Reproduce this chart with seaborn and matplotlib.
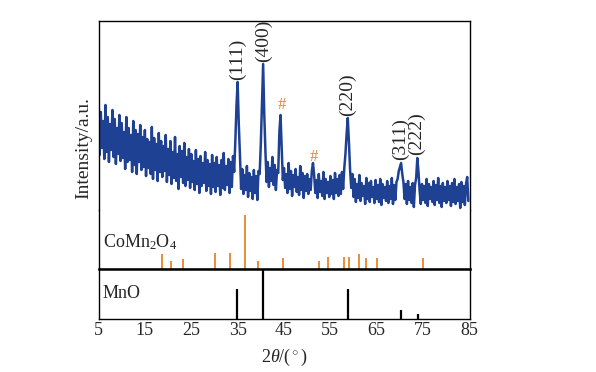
import matplotlib
matplotlib.use("Agg")
import matplotlib.pyplot as plt
import numpy as np
import pandas as pd
import seaborn as sns

# XRD pattern, 2theta from 5 to 84.75 in 0.25 deg steps (intensity, a.u.)
two_theta = np.arange(5.0, 85.0, 0.25)
intensity = [
    228, 165, 208, 172, 199, 161, 215, 168, 203, 158, 196, 170, 210, 163, 201, 156, 192, 166, 205, 159,
    197, 162, 188, 151, 203, 158, 192, 160, 185, 148, 199, 155, 190, 146, 186, 158, 195, 150, 183, 153,
    190, 144, 181, 152, 178, 146, 193, 141, 182, 150, 176, 139, 187, 148, 179, 143, 174, 149, 185, 138,
    171, 145, 179, 136, 168, 142, 183, 139, 166, 131, 174, 143, 169, 137, 177, 134, 163, 140, 171, 132,
    166, 138, 159, 130, 170, 136, 161, 127, 164, 134, 157, 137, 168, 129, 160, 134, 156, 126, 165, 133,
    157, 128, 163, 134, 155, 125, 160, 132, 167, 130, 154, 135, 161, 127, 158, 133, 164, 148, 178, 214,
    238, 196, 165, 131, 151, 126, 145, 130, 154, 123, 147, 129, 143, 121, 150, 127, 144, 120, 149, 146,
    176, 218, 256, 205, 168, 138, 158, 133, 152, 139, 163, 135, 155, 130, 150, 147, 188, 205, 172, 140,
    152, 132, 146, 127, 157, 131, 149, 124, 145, 133, 151, 128, 143, 125, 154, 130, 147, 122, 144, 129,
    146, 126, 141, 130, 149, 157, 145, 127, 140, 122, 146, 128, 139, 124, 148, 121, 141, 127, 138, 123,
    144, 126, 140, 121, 147, 127, 141, 124, 145, 126, 148, 131, 152, 166, 186, 202, 178, 150, 132, 146,
    123, 141, 118, 136, 122, 145, 119, 137, 124, 134, 116, 142, 121, 137, 118, 139, 123, 133, 117, 140,
    121, 135, 118, 141, 115, 136, 122, 133, 119, 139, 117, 134, 121, 142, 116, 135, 120, 138, 141, 149,
    153, 157, 146, 138, 121, 136, 116, 139, 120, 133, 117, 137, 113, 135, 142, 162, 148, 129, 116, 136,
    120, 134, 117, 141, 114, 136, 121, 133, 118, 139, 115, 135, 120, 142, 117, 134, 113, 137, 119, 133,
    117, 139, 120, 134, 114, 137, 118, 141, 116, 133, 119, 136, 112, 138, 118, 134, 115, 136, 143, 119,
]

# peak labels: (text, 2theta, intensity at label bottom)
peak_labels = ["(111)", "(400)", "(220)", "(311)", "(222)"]
peak_pos = [35.0, 40.5, 58.6, 70.2, 73.6]
peak_height = [240, 258, 204, 160, 165]
hash_pos = [44.55, 51.5]
hash_height = [215, 163]

# reference cards
comn2o4_pos = [18.74, 20.59, 23.17, 30.2, 33.43, 36.66, 39.45, 44.76, 52.63,
               54.57, 57.88, 59.09, 61.24, 62.68, 65.1, 75.0]
comn2o4_int = [27, 15, 18, 29, 29, 100, 15, 20, 15, 23, 23, 23, 27, 20, 20, 20]
mno_pos = [34.94, 40.53, 58.74, 70.2, 73.8]
mno_int = [60, 100, 60, 18, 11]

blue = "#1F4193"
orange = "#E8832A"

sns.set_style("white")
plt.rcParams["font.family"] = ["Liberation Serif", "DejaVu Serif"]
plt.rcParams["mathtext.fontset"] = "custom"
plt.rcParams["mathtext.rm"] = "Liberation Serif"
plt.rcParams["mathtext.it"] = "Liberation Serif:italic"
plt.rcParams["font.size"] = 13

fig = plt.figure(figsize=(5.96, 3.72), dpi=100)
W, H = 596, 372
left, right = 98.5 / W, 469.5 / W
y_top, y_mid, y_sep, y_bot = 21, 210, 269, 319


def add_ax(top_px, bot_px):
    return fig.add_axes([left, 1 - bot_px / H, right - left, (bot_px - top_px) / H])


ax1 = add_ax(y_top, y_mid)
ax2 = add_ax(y_mid, y_sep)
ax3 = add_ax(y_sep, y_bot)

df = pd.DataFrame({"two_theta": two_theta, "intensity": intensity})
sns.lineplot(data=df, x="two_theta", y="intensity", ax=ax1, color=blue,
             linewidth=1.8, estimator=None, sort=False)
ax1.set_ylim(110, 299)
for lab, p, h in zip(peak_labels, peak_pos, peak_height):
    ax1.text(p, h, lab, rotation=90, ha="center", va="bottom", fontsize=14)
for p, h in zip(hash_pos, hash_height):
    ax1.text(p, h, "#", color=orange, ha="center", va="center", fontsize=12)

ax2.vlines(comn2o4_pos, 0, comn2o4_int, color=orange, linewidth=1.3)
ax2.set_ylim(0, 100 * 59 / 54)
ax2.text(0.012, 0.46, r"CoMn$_2$O$_4$", transform=ax2.transAxes, va="center", fontsize=13)

ax3.vlines(mno_pos, 0, mno_int, color="black", linewidth=1.6)
ax3.set_ylim(0, 100)
ax3.text(0.012, 0.52, "MnO", transform=ax3.transAxes, va="center", fontsize=13)

for ax in (ax1, ax2, ax3):
    ax.set_xlim(5, 85)
    ax.set_yticks([])
    ax.set_xlabel("")
    ax.set_ylabel("")
    for s in ax.spines.values():
        s.set_color("black")
        s.set_linewidth(1.0)
for ax in (ax1, ax2):
    ax.set_xticks([])
ax1.spines["bottom"].set_visible(False)
ax2.spines["top"].set_visible(False)
ax3.spines["top"].set_linewidth(1.8)

ax3.set_xticks(np.arange(5, 86, 10))
ax3.tick_params(axis="x", direction="in", length=4.5, width=1.0, labelsize=13, pad=2)
ax3.set_xlabel(r"2$\it{\theta}$/($^\circ$)", fontsize=13, labelpad=6)

fig.text(84 / W, 1 - 148 / H, "Intensity/a.u.", rotation=90, ha="center", va="center", fontsize=14)

fig.savefig("out.png", dpi=100)
